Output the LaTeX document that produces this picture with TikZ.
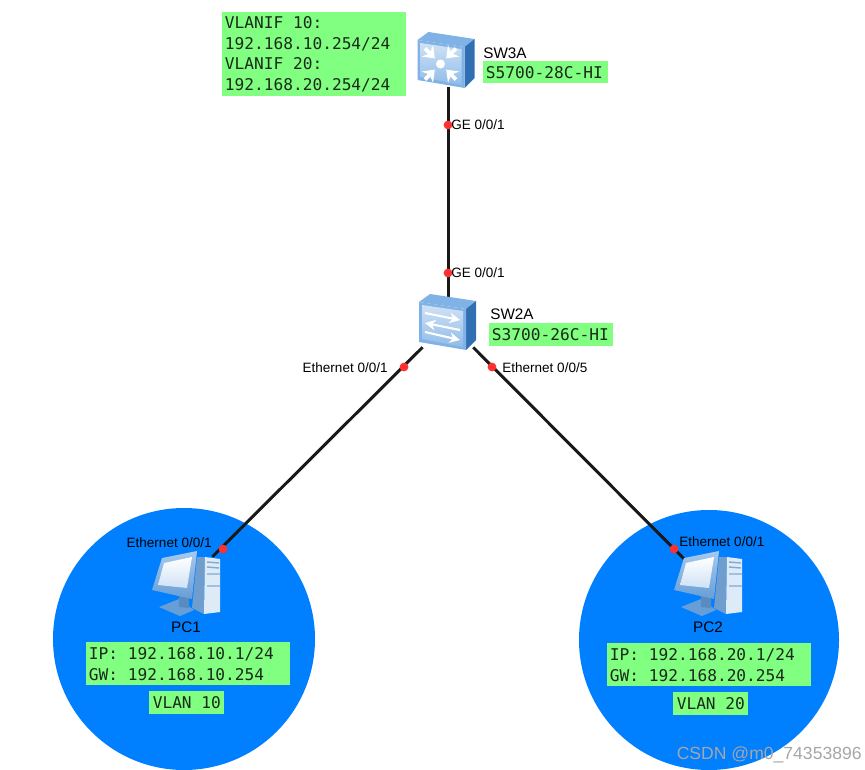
\documentclass[tikz,border=0pt]{standalone}
\usepackage{fontspec}
\setmainfont{Liberation Sans}
\setmonofont{DejaVu Sans Mono}
\usetikzlibrary{arrows.meta, positioning, calc}
\definecolor{mBlue}{HTML}{0080FF}
\definecolor{mGreen}{HTML}{80FF80}
\definecolor{mRed}{HTML}{FF3030}
\definecolor{mSide}{HTML}{2F6FB2}
\definecolor{mFront}{HTML}{80B2E6}
\definecolor{mPale}{HTML}{CFE2F5}
\definecolor{mInk}{HTML}{1A2A1A}

\begin{document}
\begin{tikzpicture}[x=0.02cm, y=-0.02cm,
    link/.style={line width=1.7pt, black!90},
    device/.style={inner sep=0pt, minimum size=1cm},
    vlanzone/.style={circle, fill=mBlue, inner sep=0pt, minimum size=#1*0.02cm},
    portdot/.style={circle, fill=mRed, inner sep=0pt, minimum size=5pt},
    port/.style={font=\fontsize{7.7}{9}\selectfont, inner sep=0pt},
    devname/.style={font=\fontsize{8.7}{10}\selectfont, inner sep=0pt},
    infobox/.style 2 args={fill=mGreen, anchor=north west, inner xsep=1.5pt, inner ysep=0pt,
      text width=#1*0.02cm-3pt, minimum height=#2*0.02cm, align=flush left, text=mInk,
      font=\fontsize{9.2}{11.8}\selectfont\ttfamily},
    switchbody/.pic={
      \fill[mFront] (-28,-20) -- (-17,-28) -- (29,-21) -- (19,-13) -- cycle;
      \fill[mSide] (19,-13) -- (29,-21) -- (29,18) -- (19,28) -- cycle;
      \fill[mFront] (-28,-20) -- (19,-13) -- (19,28) -- (-28,20) -- cycle;
      \shade[top color=mPale, bottom color=mFront!80!mPale] (-25,-17) -- (16,-11) -- (16,25) -- (-25,17) -- cycle;
    },
    routerface/.pic={
      \fill[white] (-5,4) circle (4.5);
      \foreach \a in {45,135,225,315} {
        \draw[white, line width=2.2pt, -{Stealth[length=6pt, width=9pt]}] ($(-5,4)+(\a:22)$) -- ($(-5,4)+(\a:8)$);
      }
    },
    pcbody/.pic={
      \fill[mSide!60!mPale] (10,-25) -- (18,-25) -- (17,32) -- (5,26) -- cycle;
      \fill[mPale!70!white] (18,-25) -- (33,-23) -- (33,30) -- (17,32) -- cycle;
      \draw[mSide!60, line width=0.8pt] (20,-20) -- (32,-19) (20,-15) -- (32,-14) (20,-8) -- (33,-8) (20,4) -- (33,4);
      \fill[mFront!70!mSide] (-28,25) -- (-8,17) -- (7,28) -- (-7,34) -- cycle;
      \fill[mSide!80] (-8,12) -- (2,14) -- (2,26) -- (-8,25) -- cycle;
      \shade[top color=mFront!70!white, bottom color=mFront!70!mSide] (-25,-24) -- (10,-31) -- (5,17) -- (-35,8) -- cycle;
      \shade[top color=white, bottom color=mPale] (-23,-19) -- (5,-25) -- (0,6) -- (-29,3) -- cycle;
    }]
    \useasboundingbox (0,0) rectangle (865,770);

    \node[vlanzone=262] (zone1) at (184,639) {};
    \node[vlanzone=260] (zone2) at (709,640) {};

    \node[device] (SW3A) at (448,62) {};
    \node[device] (SW2A) at (448,322) {};
    \node[device] (PC1) at (187,582) {};
    \node[device] (PC2) at (709,584) {};

    \draw[link] (SW3A) -- (SW2A);
    \draw[link] (SW2A) -- (PC1);
    \draw[link] (SW2A) -- (PC2);

    % device icons
    \pic at (445.5,60) {switchbody};
    \pic at (445.5,60) {routerface};
    \pic at (447,322) {switchbody};
    \foreach \yA/\yB/\xA/\xB in {-9/-2/-22/13, 8/1/13/-22, 10/18/-22/13} {
      \draw[white, line width=1.2pt, -{Stealth[length=6pt, width=6pt]}] ($(447,322)+(\xA,\yA)$) -- ($(447,322)+(\xB,\yB)$);
    }
    \pic at (187,582) {pcbody};
    \pic at (709,582) {pcbody};

    \node[portdot] (p3a) at (448,125) {};
    \node[portdot] (p2a) at (448,273) {};
    \node[portdot] (p2l) at (404,367) {};
    \node[portdot] (p2r) at (492,367) {};
    \node[portdot] (p1) at (223,549) {};
    \node[portdot] (p2) at (674,549) {};

    \node[port, anchor=west] at (451,125) {GE 0/0/1};
    \node[port, anchor=west] at (451,273) {GE 0/0/1};
    \node[port, anchor=east] at (388,368) {Ethernet 0/0/1};
    \node[port, anchor=west] at (502,368) {Ethernet 0/0/5};
    \node[port, anchor=east] at (212,543) {Ethernet 0/0/1};
    \node[port, anchor=west] at (679,542) {Ethernet 0/0/1};

    \node[devname, anchor=west] at (483,53) {SW3A};
    \node[devname, anchor=west] at (490,314) {SW2A};
    \node[devname] at (186,627) {PC1};
    \node[devname] at (708,627) {PC2};

    \node[infobox={184}{84}] (ifbox) at (222,12) {VLANIF 10:\\192.168.10.254/24\\VLANIF 20:\\192.168.20.254/24};
    \node[infobox={125}{22}] (sw3box) at (483,61) {S5700-28C-HI};
    \node[infobox={124}{23}] (sw2box) at (489,323) {S3700-26C-HI};
    \node[infobox={204}{43}] (pc1box) at (86,642) {IP: 192.168.10.1/24\\GW: 192.168.10.254};
    \node[infobox={204}{43}] (pc2box) at (607,643) {IP: 192.168.20.1/24\\GW: 192.168.20.254};
    \node[infobox={75}{23}, align=flush center] (vlan1) at (149,691) {VLAN 10};
    \node[infobox={75}{23}, align=flush center] (vlan2) at (673,692) {VLAN 20};

    \node[anchor=east, inner sep=0pt, text=gray!70, font=\fontsize{10}{12}\selectfont] (mark) at (862,755) {CSDN @m0\_74353896};
\end{tikzpicture}
\end{document}
